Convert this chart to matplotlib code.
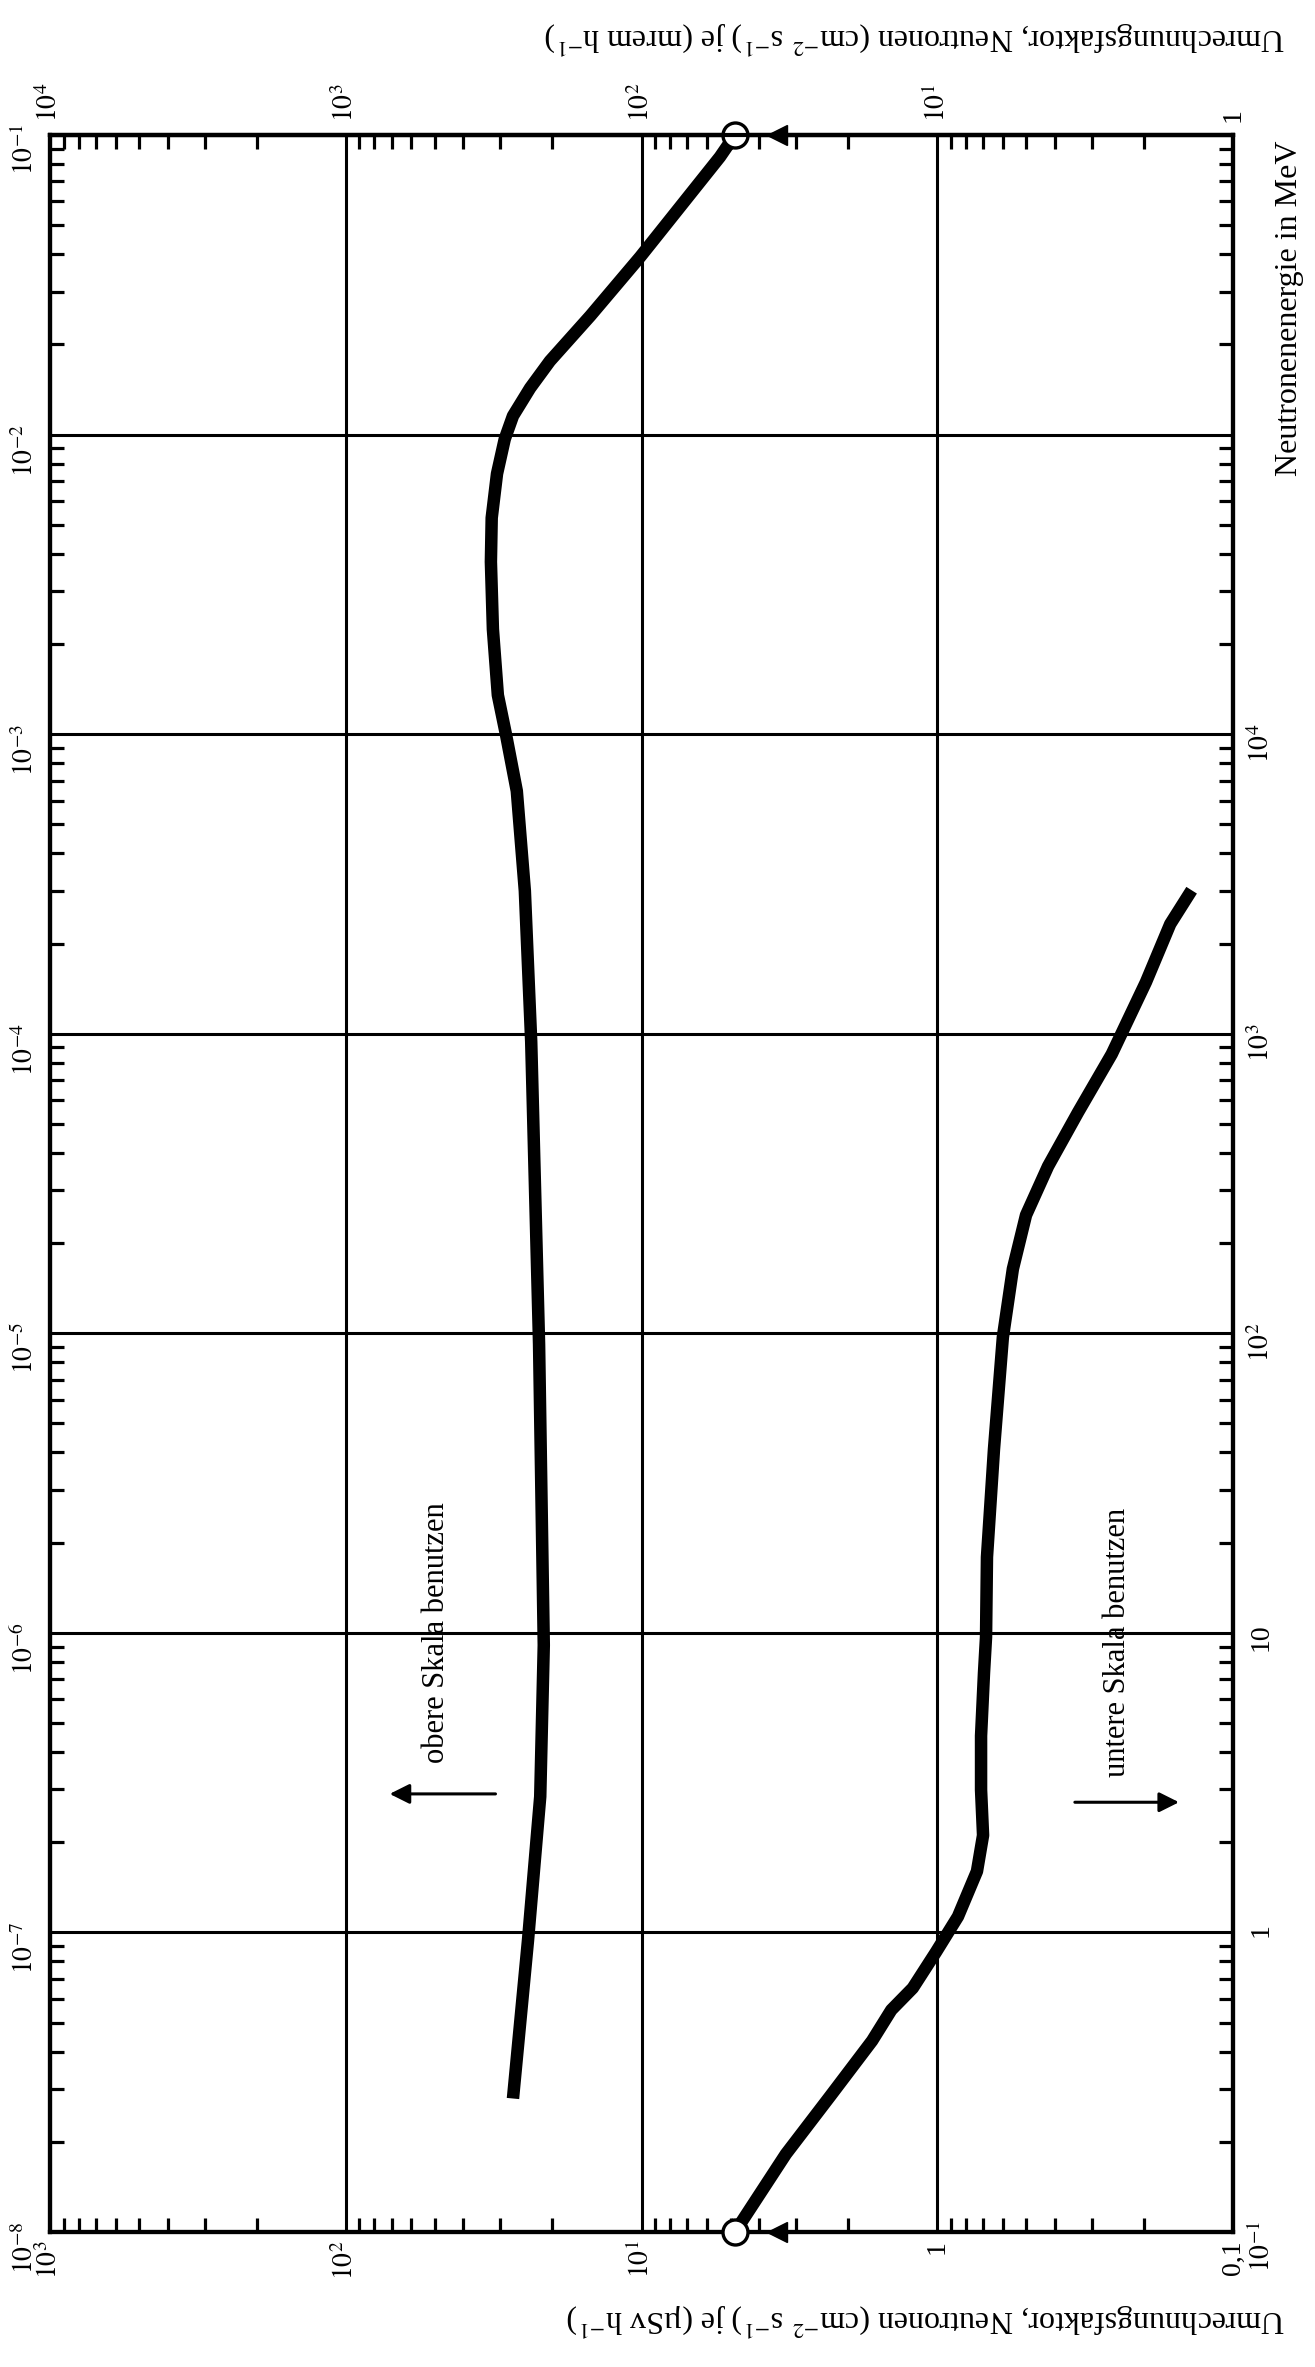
import matplotlib
matplotlib.use("Agg")
import matplotlib.pyplot as plt
from matplotlib.ticker import FixedLocator, FixedFormatter, LogLocator, NullFormatter

plt.rcParams['font.family'] = ['Liberation Serif', 'DejaVu Serif']
plt.rcParams['mathtext.fontset'] = 'stix'

# upper curve: energy on the upper scale (MeV), factor per uSv/h
upper_energy = [1e-1, 0.0845, 0.0392, 0.0249, 0.0176, 0.0143, 0.01154, 0.00966,
                0.0074, 0.00527, 0.00376, 0.00224, 0.00135, 0.000993, 0.000646,
                3.0e-4, 9.4e-5, 9.2e-6, 9.1e-7, 2.84e-7, 9.4e-8, 2.79e-8]
upper_factor = [4.83, 5.43, 10.1, 14.9, 20.4, 23.8, 27.2, 29.0,
                30.8, 32.1, 32.3, 31.8, 30.6, 28.7, 26.4,
                24.8, 23.6, 22.2, 21.4, 22.0, 24.2, 27.2]

# lower curve: energy on the lower scale (MeV), factor per uSv/h
lower_energy = [0.1, 0.182, 0.286, 0.435, 0.551, 0.652, 0.86, 1.13, 1.60, 2.11,
                2.99, 4.53, 7.34, 9.68, 17.9, 41.0, 97, 164, 248, 361, 547,
                855, 1486, 2323, 3013]
lower_factor = [4.83, 3.25, 2.29, 1.66, 1.43, 1.21, 1.01, 0.851, 0.734, 0.700,
                0.711, 0.711, 0.695, 0.684, 0.679, 0.643, 0.600, 0.555, 0.501,
                0.422, 0.334, 0.257, 0.197, 0.163, 0.138]

usv_ticks = [1e3, 1e2, 1e1, 1, 0.1]
usv_labels = ['$10^3$', '$10^2$', '$10^1$', '1', '0,1']
mrem_ticks = [1e4, 1e3, 1e2, 1e1, 1]
mrem_labels = ['$10^4$', '$10^3$', '$10^2$', '$10^1$', '1']
upper_e_ticks = [1e-8, 1e-7, 1e-6, 1e-5, 1e-4, 1e-3, 1e-2, 1e-1]
upper_e_labels = ['$10^{-8}$', '$10^{-7}$', '$10^{-6}$', '$10^{-5}$',
                  '$10^{-4}$', '$10^{-3}$', '$10^{-2}$', '$10^{-1}$']
lower_e_ticks = [0.1, 1, 10, 100, 1e3, 1e4]
lower_e_labels = ['$10^{-1}$', '1', '10', '$10^2$', '$10^3$', '$10^4$']

pointer_factor = 3.48

W, H = 1315, 2367
fig = plt.figure(figsize=(W / 100, H / 100), dpi=100)
ax = fig.add_axes([50 / W, 1 - 2232 / H, (1233 - 50) / W, (2232 - 135) / H])

ax.set_xscale('log')
ax.set_yscale('log')
ax.set_xlim(1e3, 0.1)
ax.set_ylim(1e-8, 1e-1)

ax_r = ax.twinx()
ax_r.set_yscale('log')
ax_r.set_ylim(1e-1, 1e6)

top = ax.secondary_xaxis('top', functions=(lambda v: v * 10, lambda v: v / 10))

for s in ax.spines.values():
    s.set_linewidth(3)
for s in ax_r.spines.values():
    s.set_linewidth(3)

ax.grid(True, which='major', color='black', linewidth=2.2)
ax.set_axisbelow(True)

tick_fs = 20

ax.xaxis.set_major_locator(FixedLocator(usv_ticks))
ax.xaxis.set_major_formatter(FixedFormatter(usv_labels))
ax.xaxis.set_minor_locator(LogLocator(base=10, subs=range(2, 10)))
ax.xaxis.set_minor_formatter(NullFormatter())

ax.yaxis.set_major_locator(FixedLocator(upper_e_ticks))
ax.yaxis.set_major_formatter(FixedFormatter(upper_e_labels))
ax.yaxis.set_minor_locator(LogLocator(base=10, subs=range(2, 10)))
ax.yaxis.set_minor_formatter(NullFormatter())

ax_r.yaxis.set_major_locator(FixedLocator(lower_e_ticks))
ax_r.yaxis.set_major_formatter(FixedFormatter(lower_e_labels))
ax_r.yaxis.set_minor_locator(LogLocator(base=10, subs=range(2, 10)))
ax_r.yaxis.set_minor_formatter(NullFormatter())

top.xaxis.set_major_locator(FixedLocator(mrem_ticks))
top.xaxis.set_major_formatter(FixedFormatter(mrem_labels))
top.xaxis.set_minor_locator(LogLocator(base=10, subs=range(2, 10)))
top.xaxis.set_minor_formatter(NullFormatter())
top.spines['top'].set_linewidth(3)

ax.tick_params(axis='x', which='major', length=0, pad=6, labelsize=tick_fs, labelrotation=90)
ax.tick_params(axis='y', which='major', length=0, pad=8, labelsize=tick_fs, labelrotation=90)
ax.tick_params(which='minor', direction='in', length=10, width=2.3)
ax_r.tick_params(axis='y', which='major', length=0, pad=11, labelsize=tick_fs, labelrotation=90)
ax_r.tick_params(axis='y', which='minor', direction='in', length=10, width=2.3)
top.tick_params(axis='x', which='major', length=0, pad=9, labelsize=tick_fs, labelrotation=90)
top.tick_params(axis='x', which='minor', direction='in', length=10, width=2.3)

# curves
ax.plot(upper_factor, upper_energy, color='black', linewidth=9,
        solid_joinstyle='round', solid_capstyle='butt', zorder=3)
ax_r.plot(lower_factor, lower_energy, color='black', linewidth=9,
          solid_joinstyle='round', solid_capstyle='butt', zorder=3)

# open circles where the curves meet the 0.1 MeV edge
ax.plot([upper_factor[0]], [upper_energy[0]], 'o', markersize=18, markerfacecolor='white',
        markeredgecolor='black', markeredgewidth=2.4, clip_on=False, zorder=5)
ax_r.plot([lower_factor[0]], [lower_energy[0]], 'o', markersize=18, markerfacecolor='white',
          markeredgecolor='black', markeredgewidth=2.4, clip_on=False, zorder=5)
ax.plot([pointer_factor], [1e-1], '<', markersize=15, color='black', clip_on=False, zorder=5)
ax_r.plot([pointer_factor], [1e-1], '<', markersize=15, color='black', clip_on=False, zorder=5)

# scale hints
ax.text(49.5, 1e-6, 'obere Skala benutzen', rotation=90, ha='center', va='center', fontsize=22)
ax.annotate('', xy=(72.6, 2.9e-7), xytext=(30.5, 2.9e-7),
            arrowprops=dict(arrowstyle='-|>', color='black', lw=2.2, mutation_scale=30))
ax_r.text(0.245, 9.3, 'untere Skala benutzen', rotation=90, ha='center', va='center', fontsize=22)
ax_r.annotate('', xy=(0.149, 2.72), xytext=(0.35, 2.72),
              arrowprops=dict(arrowstyle='-|>', color='black', lw=2.2, mutation_scale=30))

fig.text(1290 / W, 1 - 140 / H, 'Neutronenenergie in MeV', rotation=90,
         ha='center', va='top', fontsize=23)
fig.text(1285 / W, 1 - 38 / H,
         'Umrechnungsfaktor, Neutronen (cm$^{-2}$ s$^{-1}$) je (mrem h$^{-1}$)',
         rotation=180, ha='right', va='center', fontsize=23)
fig.text(1285 / W, 1 - 2320 / H,
         'Umrechnungsfaktor, Neutronen (cm$^{-2}$ s$^{-1}$) je (µSv h$^{-1}$)',
         rotation=180, ha='right', va='center', fontsize=23)

fig.savefig('out.png', dpi=100, facecolor='white')
